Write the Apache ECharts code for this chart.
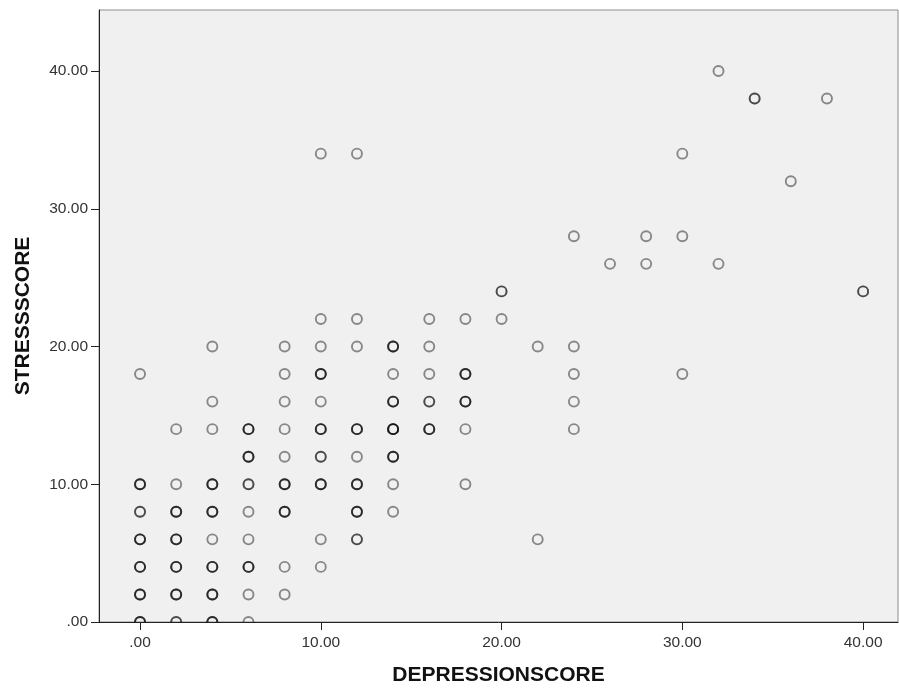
<!DOCTYPE html>
<html>
<head>
<meta charset="utf-8">
<script src="https://cdn.jsdelivr.net/npm/echarts@6/dist/echarts.min.js"></script>
<style>
  html, body { margin: 0; padding: 0; background: #fff; }
  #chart { width: 899px; height: 688px; }
</style>
</head>
<body>
<div id="chart"></div>
<script>
// observed (depression, stress) pairs and how many cases sit on each pair
var depression = [
  0, 0, 0, 0, 0, 0, 0,
  2, 2, 2, 2, 2, 2, 2,
  4, 4, 4, 4, 4, 4, 4, 4, 4,
  6, 6, 6, 6, 6, 6, 6, 6,
  8, 8, 8, 8, 8, 8, 8, 8, 8,
  10, 10, 10, 10, 10, 10, 10, 10, 10, 10,
  12, 12, 12, 12, 12, 12, 12, 12,
  14, 14, 14, 14, 14, 14, 14,
  16, 16, 16, 16, 16,
  18, 18, 18, 18, 18,
  20, 20,
  22, 22,
  24, 24, 24, 24, 24,
  26,
  28, 28,
  30, 30, 30,
  32, 32,
  34,
  36,
  38,
  40
];
var stress = [
  18, 10, 8, 6, 4, 2, 0,
  14, 10, 8, 6, 4, 2, 0,
  20, 16, 14, 10, 8, 6, 4, 2, 0,
  14, 12, 10, 8, 6, 4, 2, 0,
  20, 18, 16, 14, 12, 10, 8, 4, 2,
  34, 22, 20, 18, 16, 14, 12, 10, 6, 4,
  34, 22, 20, 14, 12, 10, 8, 6,
  20, 18, 16, 14, 12, 10, 8,
  22, 20, 18, 16, 14,
  22, 18, 16, 14, 10,
  24, 22,
  20, 6,
  28, 20, 18, 16, 14,
  26,
  28, 26,
  34, 28, 18,
  40, 26,
  38,
  32,
  38,
  24
];
var cases = [
  1, 3, 2, 3, 3, 3, 3,
  1, 1, 3, 3, 3, 3, 2,
  1, 1, 1, 3, 3, 1, 3, 3, 3,
  3, 3, 2, 1, 1, 3, 1, 1,
  1, 1, 1, 1, 1, 3, 3, 1, 1,
  1, 1, 1, 3, 1, 3, 2, 3, 1, 1,
  1, 1, 1, 3, 1, 3, 3, 2,
  3, 1, 3, 4, 3, 1, 1,
  1, 1, 1, 2, 3,
  1, 3, 3, 1, 1,
  2, 1,
  1, 1,
  1, 1, 1, 1, 1,
  1,
  1, 1,
  1, 1, 1,
  1, 1,
  2,
  1,
  1,
  2
];
var tickValues = [0, 10, 20, 30, 40];

// one point per case, so repeated pairs draw darker like in the original
var points = [];
for (var i = 0; i < depression.length; i++) {
  for (var k = 0; k < cases[i]; k++) {
    points.push([depression[i], stress[i]]);
  }
}

var fmt = function (v) {
  return v === 0 ? '.00' : v.toFixed(2);
};

var myChart = echarts.init(document.getElementById('chart'));
var option = {
  animation: false,
  backgroundColor: '#fff',
  grid: {
    left: 99, right: 1, top: 10, bottom: 66,
    outerBoundsMode: 'none',
    show: true,
    backgroundColor: '#F0F0F0',
    borderColor: '#8c8c8c',
    borderWidth: 1
  },
  xAxis: {
    type: 'value',
    min: -2.27,
    max: 41.93,
    z: 10,
    name: 'DEPRESSIONSCORE',
    nameLocation: 'middle',
    nameGap: 43,
    nameTextStyle: { fontFamily: 'Liberation Sans', fontWeight: 'bold', fontSize: 21, color: '#111' },
    axisLine: { onZero: false, lineStyle: { color: '#222', width: 1 } },
    axisTick: { show: true, length: 8, customValues: tickValues, lineStyle: { color: '#222' } },
    axisLabel: {
      customValues: tickValues, formatter: fmt, margin: 13,
      fontFamily: 'Liberation Sans', fontSize: 15.5, color: '#333'
    },
    splitLine: { show: false }
  },
  yAxis: {
    type: 'value',
    min: 0,
    max: 44.43,
    z: 10,
    name: 'STRESSSCORE',
    nameLocation: 'middle',
    nameGap: 65,
    nameTextStyle: { fontFamily: 'Liberation Sans', fontWeight: 'bold', fontSize: 21, color: '#111' },
    axisLine: { onZero: false, lineStyle: { color: '#222', width: 1 } },
    axisTick: { show: true, length: 8, customValues: tickValues, lineStyle: { color: '#222' } },
    axisLabel: {
      customValues: tickValues, formatter: fmt, margin: 11,
      fontFamily: 'Liberation Sans', fontSize: 15.5, color: '#333'
    },
    splitLine: { show: false }
  },
  // white strip under the plot hides the lower half of circles sitting on y = 0
  graphic: [{
    type: 'rect',
    z: 5,
    silent: true,
    shape: { x: 0, y: 622.5, width: 899, height: 66 },
    style: { fill: '#fff' }
  }],
  series: [{
    type: 'scatter',
    symbol: 'circle',
    symbolSize: 10,
    clip: false,
    itemStyle: {
      color: 'rgba(0,0,0,0)',
      borderColor: 'rgba(0,0,0,0.55)',
      borderWidth: 1.9
    },
    data: points
  }]
};
myChart.setOption(option);
</script>
</body>
</html>
